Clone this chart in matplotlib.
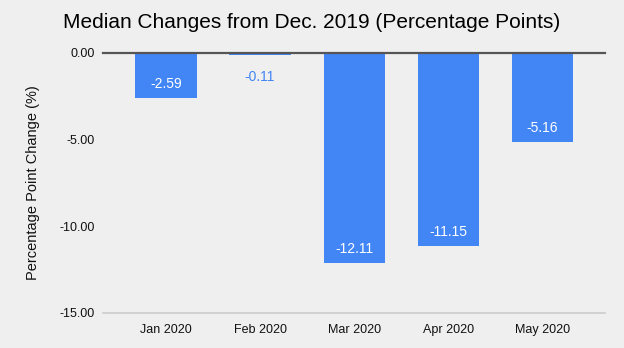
import matplotlib.pyplot as plt

months = ["Jan 2020", "Feb 2020", "Mar 2020", "Apr 2020", "May 2020"]
changes = [-2.59, -0.11, -12.11, -11.15, -5.16]
yticks = [0, -5, -10, -15]

bg = "#efefef"
blue = "#4285f4"
plt.rcParams['font.family'] = ['Liberation Sans', 'DejaVu Sans']

fig = plt.figure(figsize=(6.24, 3.48), dpi=100, facecolor=bg)
ax = fig.add_axes([0.165, 0.101, 0.805, 0.747], facecolor=bg)

x = range(len(months))
ax.bar(x, changes, width=0.65, color=blue, zorder=2)

for i, v in zip(x, changes):
    if v < -1:
        ax.annotate(f"{v:.2f}", (i, v), xytext=(0, 10), textcoords="offset points",
                    ha="center", va="center", color="white", fontsize=10, zorder=3)
    else:
        ax.annotate(f"{v:.2f}", (i, v), xytext=(0, -16), textcoords="offset points",
                    ha="center", va="center", color=blue, fontsize=10, zorder=3)

ax.set_xlim(-0.67, 4.67)
ax.set_ylim(-15, 0)
ax.set_xticks(list(x))
ax.set_xticklabels(months)
ax.set_yticks(yticks)
ax.set_yticklabels([f"{t:.2f}" for t in yticks])
ax.tick_params(length=0, labelsize=9, colors="#111111")
ax.tick_params(axis="x", pad=8)
ax.tick_params(axis="y", pad=6)
for s in ax.spines.values():
    s.set_visible(False)

ax.axhline(0, color="#555555", lw=1.6, zorder=4, clip_on=False)
ax.axhline(-15, color="#cccccc", lw=1.2, zorder=1, clip_on=False)

ax.set_ylabel("Percentage Point Change (%)", fontsize=10.5, color="#111111", labelpad=14)
fig.text(0.5, 0.935, "Median Changes from Dec. 2019 (Percentage Points)",
         ha="center", va="center", fontsize=15, color="#000000")

fig.savefig("out.png", dpi=100, facecolor=bg)
